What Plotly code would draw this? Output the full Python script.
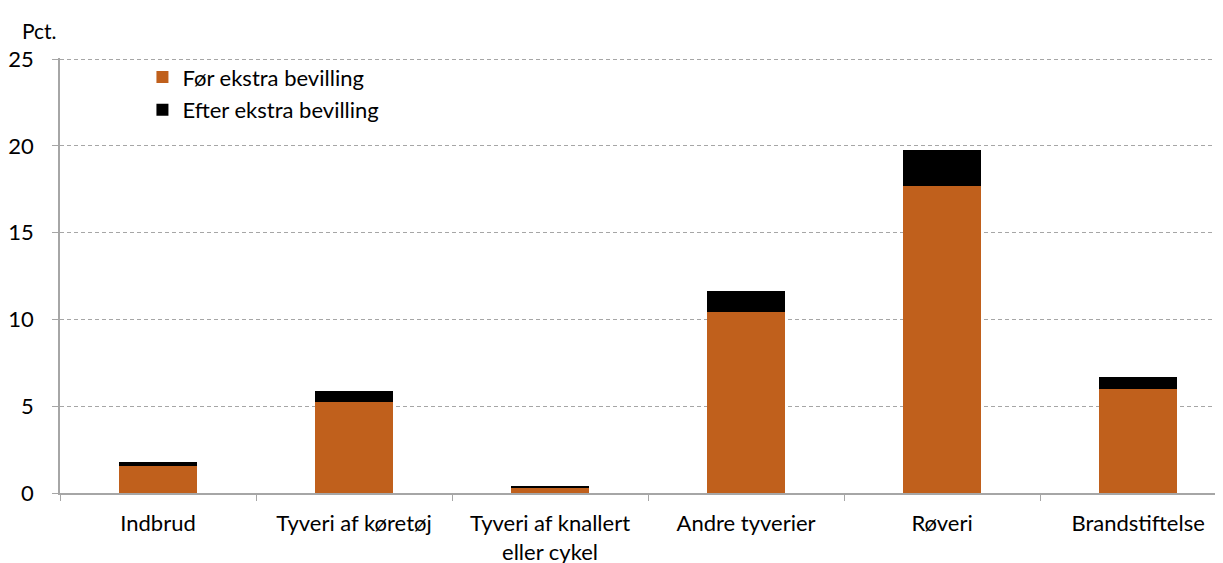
import plotly.graph_objects as go

categories = ["Indbrud", "Tyveri af køretøj", "Tyveri af knallert<br>eller cykel",
              "Andre tyverier", "Røveri", "Brandstiftelse"]
foer = [1.55, 5.22, 0.33, 10.41, 17.67, 5.99]
efter = [0.22, 0.66, 0.03, 1.23, 2.11, 0.67]
series_names = ["Før ekstra bevilling", "Efter ekstra bevilling"]
y_ticks = [0, 5, 10, 15, 20, 25]

FONT = "Lato"
FS = 22
ORANGE = "#C0601C"

fig = go.Figure()
fig.add_trace(go.Bar(x=categories, y=foer, name=series_names[0],
                     marker=dict(color=ORANGE, line=dict(width=0)),
                     legendgroup="a", width=0.4))
fig.add_trace(go.Bar(x=categories, y=efter, name=series_names[1],
                     marker=dict(color="#000000", line=dict(width=0)),
                     legendgroup="b", width=0.4))

fig.update_layout(
    width=1223, height=563,
    barmode="stack",
    plot_bgcolor="white", paper_bgcolor="white",
    margin=dict(l=52, r=0, t=50, b=78, autoexpand=False),
    font=dict(family=FONT, size=FS, color="#000000"),
    showlegend=True,
    legend=dict(x=0.0704, y=1.004, xanchor="left", yanchor="top",
                traceorder="grouped", tracegroupgap=1,
                font=dict(family=FONT, size=FS), bgcolor="rgba(0,0,0,0)"),
)
fig.add_annotation(text="Pct.", xref="paper", yref="paper",
                   x=-0.0342, y=1.064, xanchor="left", yanchor="middle",
                   showarrow=False, font=dict(family=FONT, size=FS - 1))

fig.update_xaxes(
    type="category", range=[-0.5, 5.474], automargin=False,
    showline=True, linecolor="#A6A6A6", linewidth=1.5,
    ticks="outside", tickson="boundaries", ticklen=6, tickcolor="#A6A6A6",
    tickfont=dict(family=FONT, size=FS), ticklabelstandoff=10,
    showgrid=False,
)
fig.update_yaxes(
    range=[0, 25.06], tickvals=y_ticks, automargin=False,
    showline=True, linecolor="#A6A6A6", linewidth=1.5,
    ticks="outside", ticklen=6, tickcolor="#A6A6A6",
    showgrid=True, gridcolor="#A6A6A6", gridwidth=1.2, griddash="4px,3px",
    zeroline=False, tickfont=dict(family=FONT, size=FS), ticklabelstandoff=14,
)

fig.write_html("out.html")
